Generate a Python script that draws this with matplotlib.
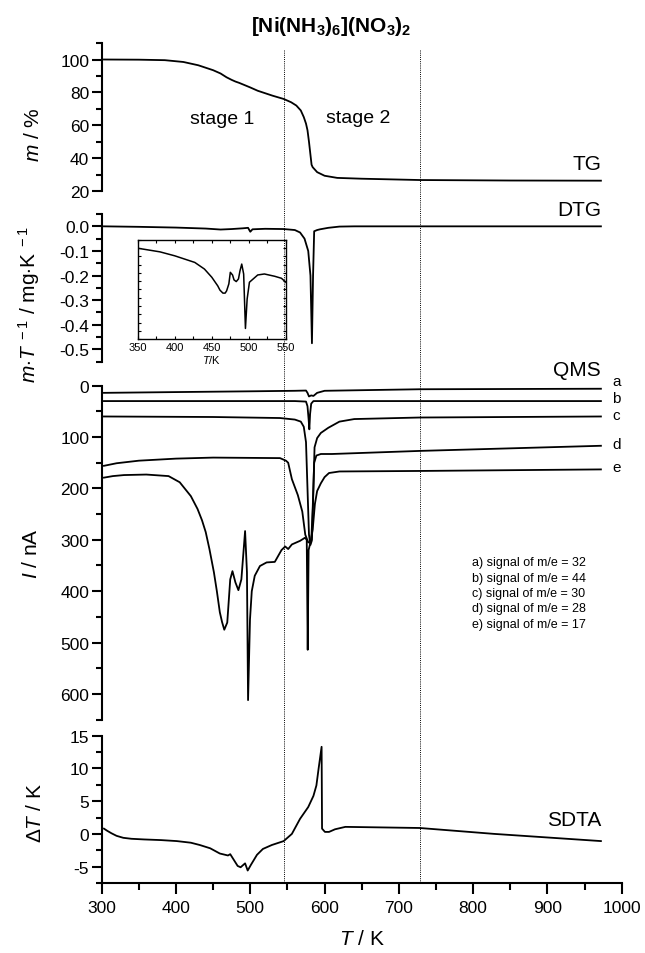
import matplotlib
matplotlib.use("Agg")  # headless
import matplotlib.pyplot as plt
import matplotlib.transforms as mtransforms
from matplotlib.lines import Line2D
from matplotlib.ticker import MultipleLocator, FuncFormatter

plt.rcParams['font.family'] = ['Liberation Sans', 'DejaVu Sans']
plt.rcParams['mathtext.fontset'] = 'custom'
plt.rcParams['mathtext.rm'] = 'Liberation Sans'
plt.rcParams['mathtext.it'] = 'Liberation Sans:italic'
plt.rcParams['mathtext.bf'] = 'Liberation Sans:bold'
plt.rcParams['axes.unicode_minus'] = False

# --- TG (mass, %) ---
tg_T = [303, 350, 385, 410, 430, 450, 460, 468, 475, 480, 485, 492, 500, 510, 520, 530,
        545, 555, 562, 568, 572, 575, 577, 579, 581, 582.5, 584, 590, 600, 617, 650,
        728, 850, 972]
tg_m = [100, 99.9, 99.6, 98.5, 96.5, 93.5, 91.5, 89.2, 87.6, 86.6, 85.8, 84.5, 83, 81,
        79.5, 78, 76, 74, 72, 69, 65, 61, 57, 50, 42, 36, 34.5, 31.5, 29.3, 28, 27.5,
        26.7, 26.4, 26.3]

# --- DTG (mg/K) ---
dtg_T = [303, 350, 400, 440, 460, 475, 490, 497, 500, 503, 520, 545, 560, 567, 573,
         578, 581, 583, 584.5, 586, 590, 594, 605, 620, 640, 972]
dtg_v = [0.0, -0.002, -0.005, -0.009, -0.013, -0.011, -0.008, -0.006, -0.022, -0.012,
         -0.01, -0.011, -0.015, -0.025, -0.05, -0.1, -0.2, -0.475, -0.2, -0.02,
         -0.015, -0.012, -0.006, -0.001, 0.0, 0.0]

# --- DTG inset, 350-550 K ---
ins_T = [350, 380, 400, 427, 440, 450, 458, 461, 465, 468, 470, 473, 475, 478, 480,
         483, 486, 488, 490.4, 493, 495.4, 497.7, 500.8, 512, 521, 535, 544, 550]
ins_v = [-0.0025, -0.0036, -0.0048, -0.0068, -0.0088, -0.0113, -0.0139, -0.0152,
         -0.0161, -0.0161, -0.0154, -0.0133, -0.0098, -0.0106, -0.0121, -0.0126,
         -0.0118, -0.0094, -0.0073, -0.0103, -0.0268, -0.0179, -0.0128, -0.0106,
         -0.0103, -0.0110, -0.0116, -0.0128]

# --- QMS ion currents (nA) ---
qa_T = [303, 400, 500, 560, 575, 577, 579, 582, 585, 590, 600, 728, 972]
qa_v = [14, 12.5, 11, 10, 9.5, 14, 21, 19, 20, 14, 10, 7, 6]

qb_T = [303, 560, 575, 577, 578.5, 579.5, 580.5, 582, 585, 972]
qb_v = [30, 30, 31, 40, 65, 85, 55, 35, 30, 30]

qc_T = [303, 450, 540, 560, 568, 572, 575, 577, 579, 581, 583, 585, 586.5, 590, 595,
        605, 620, 640, 728, 972]
qc_v = [60, 61, 63, 66, 70, 80, 110, 200, 290, 310, 300, 200, 120, 102, 92,
        82, 70, 65, 62, 60]

qd_T = [303, 320, 350, 400, 450, 540, 548, 551, 556, 564, 570, 574, 578, 582, 584, 586,
        589, 595, 610, 728, 972]
qd_v = [156, 151, 146, 142, 140, 141, 146, 150, 182, 213, 245, 290, 305, 305, 240, 150,
        136, 133, 133, 127, 117]

qe_T = [303, 315, 330, 360, 390, 405, 420, 429, 435, 440, 445, 451, 455, 459, 462, 465,
        469, 473, 476, 480, 484, 488, 493, 495.5, 497, 499.6, 502, 506, 513, 522, 533,
        542, 547, 551, 556, 567, 573.6, 576, 577.3, 578.5, 581, 584, 587, 590, 595,
        600, 606, 620, 728, 972]
qe_v = [179, 176, 174, 173, 176, 188, 215, 240, 262, 285, 318, 363, 400, 441, 460, 475,
        461, 377, 361, 383, 398, 377, 283, 363, 612, 455, 400, 370, 351, 344, 343,
        320, 313, 318, 309, 302, 296, 300, 514, 320, 305, 280, 230, 205, 190, 178,
        170, 167, 166, 163]

qms_labels = ['a', 'b', 'c', 'd', 'e']
qms_label_y = [-10, 24, 57, 114, 159]
qms_legend = ['a) signal of m/e = 32', 'b) signal of m/e = 44', 'c) signal of m/e = 30',
              'd) signal of m/e = 28', 'e) signal of m/e = 17']

# --- SDTA (K) ---
sdta_T = [303, 307, 313, 320, 329, 340, 357, 380, 401, 420, 432, 446, 459, 470, 473, 478,
          483, 487, 490, 493, 496.5, 501, 509, 517, 529, 545, 556, 567, 578, 585, 589,
          592, 596, 596.6, 600.5, 606, 614, 628, 728, 828, 972]
sdta_v = [0.8, 0.5, 0.1, -0.3, -0.6, -0.75, -0.85, -0.95, -1.1, -1.35, -1.7, -2.2, -3.0,
          -3.3, -3.1, -4.0, -4.9, -5.1, -4.8, -4.5, -5.6, -4.7, -3.2, -2.3, -1.7, -1.1,
          0.0, 2.3, 4.1, 5.8, 7.4, 10.0, 13.3, 0.8, 0.3, 0.3, 0.7, 1.07, 0.9, 0.0, -1.1]

stage_bounds = [545, 728]

fig = plt.figure(figsize=(6.45, 9.54), dpi=100)
L, W = 0.1577, 0.8062
ax_tg = fig.add_axes([L, 0.7987, W, 0.1551])
ax_dtg = fig.add_axes([L, 0.6198, W, 0.1548])
ax_qms = fig.add_axes([L, 0.2446, W, 0.3501])
ax_sdta = fig.add_axes([L, 0.0734, W, 0.1544])


def style(ax, lim, major, minor, bottom=False):
    ax.set_xlim(300, 1000)
    ax.set_ylim(*lim)
    ax.patch.set_alpha(0)
    for s in ['top', 'right']:
        ax.spines[s].set_visible(False)
    ax.spines['left'].set_linewidth(1.5)
    ax.spines['bottom'].set_linewidth(1.5)
    ax.yaxis.set_major_locator(MultipleLocator(major))
    ax.yaxis.set_minor_locator(MultipleLocator(minor))
    ax.tick_params(axis='y', which='major', direction='out', length=7, width=1.5,
                   labelsize=12.5, pad=2)
    ax.tick_params(axis='y', which='minor', direction='out', length=4, width=1.5)
    if bottom:
        ax.xaxis.set_major_locator(MultipleLocator(100))
        ax.xaxis.set_minor_locator(MultipleLocator(50))
        ax.tick_params(axis='x', which='major', direction='out', length=8, width=1.5,
                       labelsize=12.5, pad=4)
        ax.tick_params(axis='x', which='minor', direction='out', length=5, width=1.5)
    else:
        ax.spines['bottom'].set_visible(False)
        ax.tick_params(axis='x', which='both', bottom=False, labelbottom=False)


lw = 1.3
style(ax_tg, (20, 110), 20, 10)
ax_tg.plot(tg_T, tg_m, color='black', lw=lw)
ax_tg.set_ylabel(r'$m$ / %', fontsize=15, va='center')
ax_tg.yaxis.set_label_coords(-0.132, 0.39)
ax_tg.text(972, 36.5, 'TG', fontsize=15, ha='right', va='center')
ax_tg.text(462, 64, 'stage 1', fontsize=14, ha='center', va='center')
ax_tg.text(645, 64.6, 'stage 2', fontsize=14, ha='center', va='center')

style(ax_dtg, (-0.55, 0.05), 0.1, 0.05)
ax_dtg.yaxis.set_major_formatter(FuncFormatter(lambda v, p: f"{v:.1f}".replace("-0.0", "0.0")))
ax_dtg.plot(dtg_T, dtg_v, color='black', lw=lw)
ax_dtg.set_ylabel(r'$m{\cdot}T^{\ -1}$ / mg$\cdot$K$^{\ -1}$', fontsize=15, va='center')
ax_dtg.yaxis.set_label_coords(-0.14, 0.39)
ax_dtg.text(972, 0.07, 'DTG', fontsize=15, ha='right', va='center', clip_on=False)

style(ax_qms, (650, 0), 100, 50)
for T, v in zip([qa_T, qb_T, qc_T, qd_T, qe_T], [qa_v, qb_v, qc_v, qd_v, qe_v]):
    ax_qms.plot(T, v, color='black', lw=lw)
ax_qms.set_ylabel(r'$I$ / nA', fontsize=15, va='center')
ax_qms.yaxis.set_label_coords(-0.135, 0.5)
ax_qms.text(972, -32, 'QMS', fontsize=15, ha='right', va='center', clip_on=False)
for lab, y in zip(qms_labels, qms_label_y):
    ax_qms.text(987, y, lab, fontsize=11, ha='left', va='center', clip_on=False)
for i, s in enumerate(qms_legend):
    ax_qms.text(0.712, 0.471 - i * 0.046, s, transform=ax_qms.transAxes, fontsize=9,
                family=['Liberation Sans Narrow', 'Liberation Sans'], ha='left', va='center')

style(ax_sdta, (-7.5, 15), 5, 2.5, bottom=True)
ax_sdta.plot(sdta_T, sdta_v, color='black', lw=lw)
ax_sdta.set_ylabel(r'$\mathit{\Delta T}$ / K', fontsize=15, va='center')
ax_sdta.yaxis.set_label_coords(-0.128, 0.48)
ax_sdta.text(972, 2.2, 'SDTA', fontsize=15, ha='right', va='center')
ax_sdta.set_xlabel(r'$T$ / K', fontsize=15, labelpad=10)

# inset with the stage 1 DTG detail
ax_in = fig.add_axes([0.2136, 0.6436, 0.2296, 0.1038])
ax_in.plot(ins_T, ins_v, color='black', lw=1.1)
ax_in.set_xlim(350, 550)
ax_in.set_ylim(-0.03, 0.0)
ax_in.xaxis.set_major_locator(MultipleLocator(50))
ax_in.xaxis.set_minor_locator(MultipleLocator(25))
ax_in.yaxis.set_major_locator(MultipleLocator(0.005))
ax_in.yaxis.set_minor_locator(MultipleLocator(0.0025))
ax_in.tick_params(which='both', direction='in', top=True, right=True, labelleft=False,
                  length=2.5, width=0.8, labelsize=8, pad=2)
for lab in ax_in.get_xticklabels():
    lab.set_family(['Liberation Sans Narrow', 'Liberation Sans'])
for s in ax_in.spines.values():
    s.set_linewidth(1.0)
ax_in.set_xlabel(r'$T$/K', fontsize=8, labelpad=1)

# stage boundaries across all panels
trans = mtransforms.blended_transform_factory(ax_sdta.transData, fig.transFigure)
for t in stage_bounds:
    fig.add_artist(Line2D([t, t], [0.0734, 0.9476], transform=trans, color='black',
                          lw=0.7, linestyle=(0, (1, 1.2))))

fig.text(0.514, 0.9717, r'[Ni(NH$_\mathbf{3}$)$_\mathbf{6}$](NO$_\mathbf{3}$)$_\mathbf{2}$',
         fontsize=15, fontweight='bold', ha='center', va='center')

fig.savefig("out.png", dpi=100)
plt.close(fig)
